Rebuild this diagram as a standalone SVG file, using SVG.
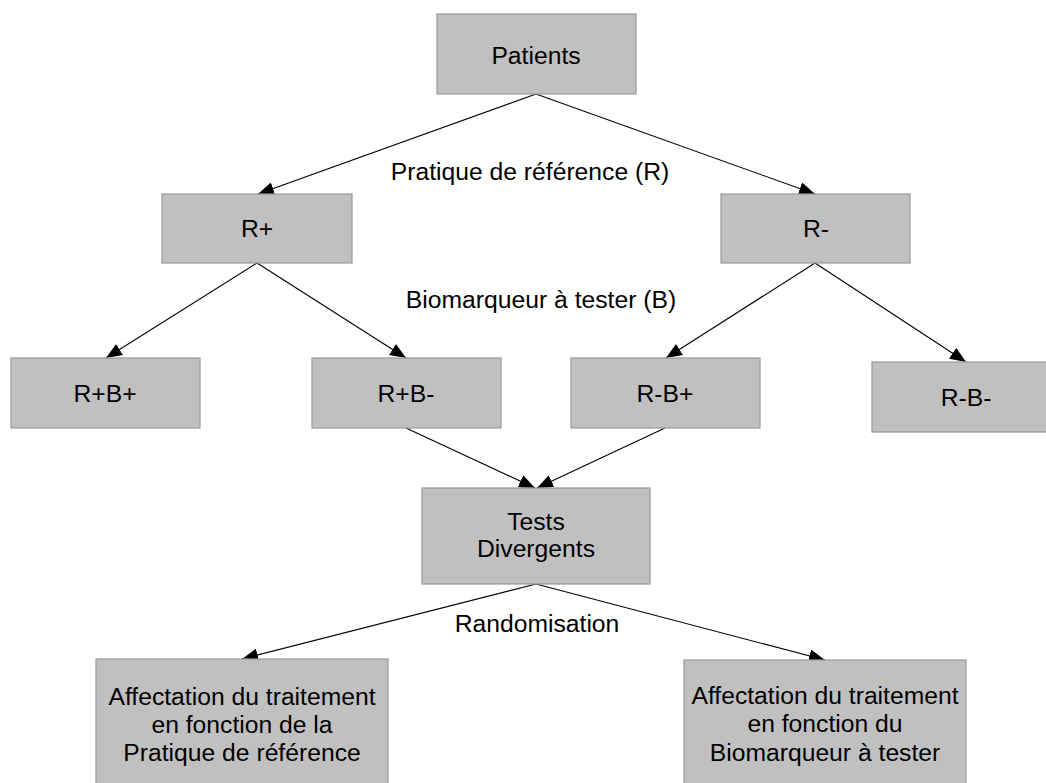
<svg xmlns="http://www.w3.org/2000/svg" width="1046" height="783" viewBox="0 0 1046 783">
<style>
.box{fill:#c0c0c0;stroke:#9a9a9a;stroke-width:1.2}
text{font-family:"Liberation Sans",Arial,sans-serif;font-size:24.7px;fill:#000;text-anchor:middle}
.edge{stroke:#000;stroke-width:1.1;fill:none;marker-end:url(#arr)}
</style>
<defs>
<marker id="arr" markerUnits="userSpaceOnUse" markerWidth="17" markerHeight="13" refX="16" refY="6.5" orient="auto">
<path d="M0,0 L16,6.5 L0,13 z" fill="#000"/>
</marker>
</defs>
<rect width="1046" height="783" fill="#fff"/>
<g id="connectors">
<line class="edge" x1="536" y1="94" x2="258" y2="194"/>
<line class="edge" x1="536" y1="94" x2="815" y2="194"/>
<line class="edge" x1="257" y1="263" x2="106" y2="358"/>
<line class="edge" x1="257" y1="263" x2="406" y2="358"/>
<line class="edge" x1="815" y1="263" x2="666" y2="358"/>
<line class="edge" x1="815" y1="263" x2="966" y2="362"/>
<line class="edge" x1="406" y1="428" x2="535" y2="488"/>
<line class="edge" x1="665" y1="428" x2="537" y2="488"/>
<line class="edge" x1="536" y1="584" x2="242" y2="659"/>
<line class="edge" x1="536" y1="584" x2="825" y2="660"/>
</g>
<g id="labels">
<text x="530" y="180">Pratique de référence (R)</text>
<text x="541" y="308">Biomarqueur à tester (B)</text>
<text x="537" y="632">Randomisation</text>
</g>
<g id="patients"><rect class="box" x="437" y="14" width="199" height="80"/><text x="536" y="64">Patients</text></g>
<g id="rplus"><rect class="box" x="162" y="194" width="190" height="69"/><text x="257" y="237">R+</text></g>
<g id="rminus"><rect class="box" x="721" y="194" width="189" height="69"/><text x="816" y="237">R-</text></g>
<g id="rpbp"><rect class="box" x="11" y="358" width="189" height="70"/><text x="105" y="402">R+B+</text></g>
<g id="rpbm"><rect class="box" x="312" y="358" width="189" height="70"/><text x="406" y="402">R+B-</text></g>
<g id="rmbp"><rect class="box" x="571" y="358" width="189" height="70"/><text x="665" y="402">R-B+</text></g>
<g id="rmbm"><rect class="box" x="872" y="362" width="189" height="70"/><text x="966" y="406">R-B-</text></g>
<g id="tests"><rect class="box" x="422" y="488" width="228" height="96"/><text x="536" y="530">Tests</text><text x="536" y="557">Divergents</text></g>
<g id="affR"><rect class="box" x="96" y="659" width="292" height="140"/><text x="242" y="705">Affectation du traitement</text><text x="242" y="733">en fonction de la</text><text x="242" y="761">Pratique de référence</text></g>
<g id="affB"><rect class="box" x="684" y="660" width="282" height="140"/><text x="825" y="704">Affectation du traitement</text><text x="825" y="732">en fonction du</text><text x="825" y="761">Biomarqueur à tester</text></g>
</svg>
